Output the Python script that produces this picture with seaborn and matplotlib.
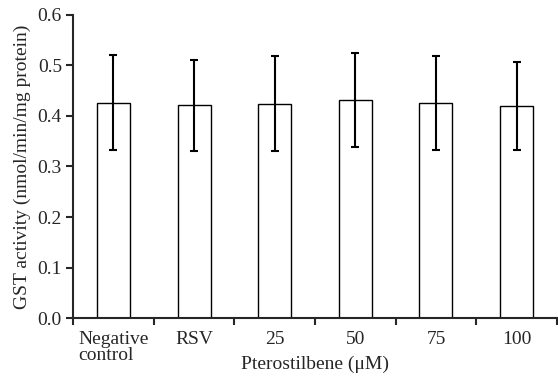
import matplotlib
matplotlib.use("Agg")
import matplotlib.pyplot as plt
import seaborn as sns
import numpy as np
import pandas as pd

groups = ["Negative\ncontrol", "RSV", "25", "50", "75", "100"]
gst_mean = [0.426, 0.421, 0.424, 0.431, 0.425, 0.419]
gst_sd = [0.094, 0.090, 0.094, 0.093, 0.093, 0.087]

sns.set_style("ticks")
plt.rcParams['font.family'] = ['Liberation Serif', 'DejaVu Serif']

df = pd.DataFrame({"group": groups, "gst": gst_mean})

fig = plt.figure(figsize=(5.58, 3.81), dpi=100)
ax = fig.add_axes([0.131, 0.165, 0.867, 0.796])

sns.barplot(data=df, x="group", y="gst", color="white", edgecolor="black",
            linewidth=1.0, width=0.41, errorbar=None, ax=ax)
ax.errorbar(np.arange(len(groups)), gst_mean, yerr=gst_sd, fmt="none",
            ecolor="black", elinewidth=1.5, capsize=3, capthick=1.5)

ax.set_xlim(-0.5, len(groups) - 0.5)
ax.set_ylim(0, 0.6)
ax.set_yticks(np.arange(0, 0.61, 0.1))
ax.set_yticklabels([f"{v:.1f}" for v in np.arange(0, 0.61, 0.1)])

# boundary ticks on the x axis, labels at the bar centres
ax.set_xticks(np.arange(-0.5, len(groups), 1.0))
ax.set_xticklabels([])
ax.set_xticks(np.arange(len(groups)), minor=True)
ax.set_xticklabels(groups, minor=True, fontsize=14, linespacing=0.95)
for lab in ax.get_xticklabels(minor=True):
    lab.set_multialignment("left")
ax.tick_params(axis="x", which="minor", length=0, pad=9)
ax.tick_params(axis="x", which="major", length=5, width=1.5, direction="out")
ax.tick_params(axis="y", length=5, width=1.5, direction="out", labelsize=14, pad=3)

for side in ["top", "right"]:
    ax.spines[side].set_visible(False)
for side in ["left", "bottom"]:
    ax.spines[side].set_linewidth(1.5)

ax.set_xlabel("Pterostilbene (μM)", fontsize=14)
ax.xaxis.set_label_coords(0.5, -0.125)
ax.set_ylabel("GST activity (nmol/min/mg protein)", fontsize=14, labelpad=5)

fig.savefig("out.png", dpi=100)
